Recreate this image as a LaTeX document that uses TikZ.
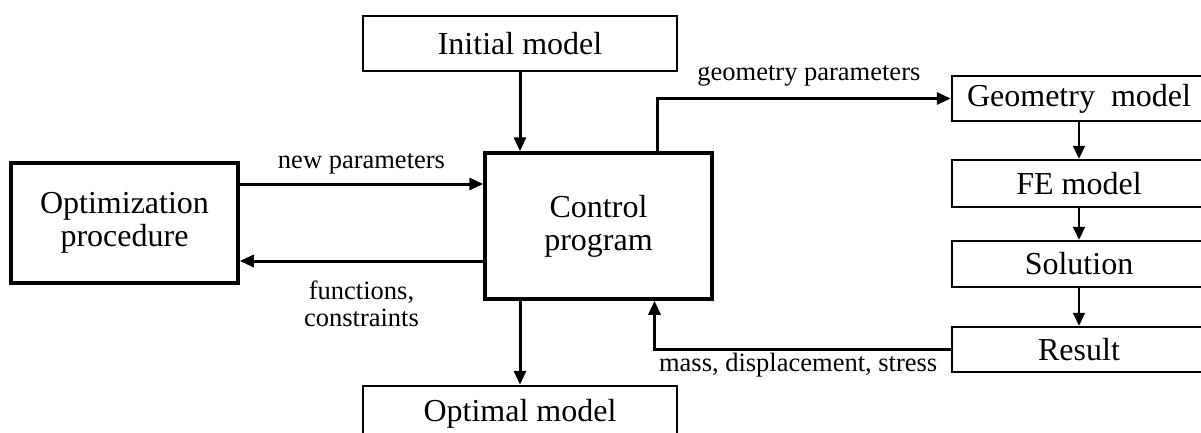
\documentclass[tikz,border=0pt]{standalone}
\usepackage{fontspec}
\setmainfont{Liberation Serif}
\usetikzlibrary{arrows.meta}

\begin{document}
\begin{tikzpicture}[x=1pt,y=-1pt,
  box/.style={draw,line width=2.5pt,inner sep=0pt,align=center,font=\fontsize{32}{33}\selectfont},
  bigbox/.style={box,line width=3.5pt},
  lbl/.style={font=\fontsize{26.5}{27}\selectfont,align=center,inner sep=0pt},
  arr/.style={line width=3pt,-{Triangle[length=14pt,width=12pt]}},
  thinarr/.style={line width=2pt,-{Triangle[length=13pt,width=12pt]}}]

\useasboundingbox (0,0) rectangle (1201,432);

% Main boxes.
\node[box,minimum width=314pt,minimum height=55pt] (init) at (520,43.5) {Initial model};
\node[bigbox,minimum width=227pt,minimum height=146pt] (ctrl) at (598.5,226) {Control\\program};
\node[bigbox,minimum width=227pt,minimum height=120pt] (opt) at (124.5,223) {Optimization\\procedure};
\node[box,minimum width=314pt,minimum height=55pt] (optm) at (520,413.5) {Optimal model};

% Analysis chain on the right.
\node[box,minimum width=254pt,minimum height=45pt] (geo) at (1079,98.5) {Geometry\ \ model};
\node[box,minimum width=254pt,minimum height=47pt] (fe) at (1079,183.5) {FE model};
\node[box,minimum width=254pt,minimum height=46pt] (sol) at (1079,264) {Solution};
\node[box,minimum width=254pt,minimum height=45pt] (res) at (1079,349.5) {Result};

% Arrows in and out of the control program.
\draw[arr] (init.south) -- (init.south |- ctrl.north);
\draw[arr] (ctrl.south -| optm) -- (optm.north);
\draw[arr] ([yshift=39pt]opt.east) -- ([yshift=39pt]opt.east -| ctrl.west)
  node[lbl,midway,anchor=base,yshift=16pt] (newpar) {new parameters};
\draw[arr] ([yshift=-38pt]opt.east -| ctrl.west) -- ([yshift=-38pt]opt.east)
  node[lbl,midway,anchor=north,yshift=-18pt] (funcs) {functions,\\constraints};
\draw[arr] ([xshift=58.5pt]ctrl.north) |- (geo.west)
  node[lbl,pos=0.75,anchor=base,xshift=5pt,yshift=18pt] (geopar) {geometry parameters};
\draw[arr] (res.west) node[lbl,anchor=base east,xshift=-12pt,yshift=-22pt] (mds) {mass, displacement, stress}
  -| ([xshift=56pt]ctrl.south);

% Chain arrows.
\draw[thinarr] (geo.south) -- (fe.north);
\draw[thinarr] (fe.south) -- (sol.north);
\draw[thinarr] (sol.south) -- (res.north);

\end{tikzpicture}
\end{document}
